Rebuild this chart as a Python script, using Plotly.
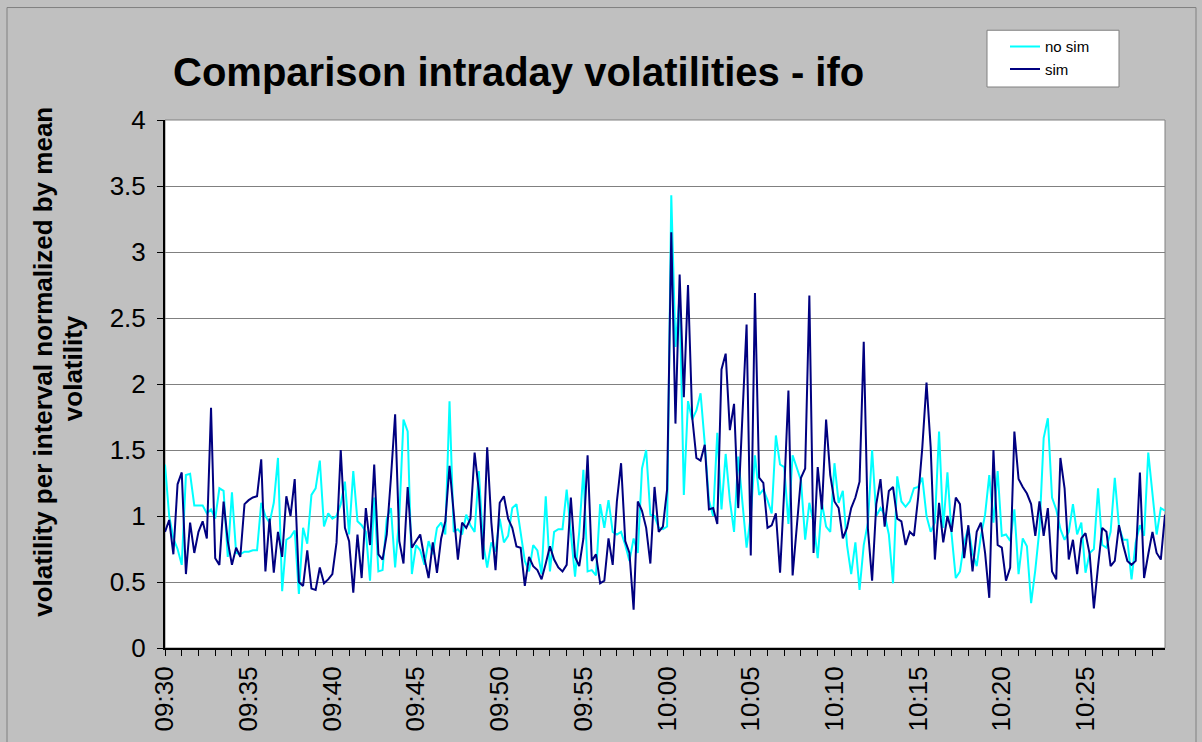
import plotly.graph_objects as go
import pandas as pd

# ---- data (15-second intervals from 09:30) ----
start_time = "2000-01-01 09:30:00"
interval = "15s"

no_sim = [
    1.39,1.00,0.83,0.75,0.63,1.31,1.32,1.08,1.08,1.08,1.02,1.05,0.98,1.21,1.19,0.69,1.18,0.72,0.71,0.73,
    0.73,0.74,0.74,1.10,1.00,0.95,1.10,1.44,0.43,0.82,0.84,0.89,0.41,0.91,0.79,1.16,1.21,1.42,0.92,1.02,
    0.98,1.00,1.09,1.26,0.86,1.34,0.96,0.93,0.88,0.51,1.14,0.58,0.59,0.98,1.06,0.61,1.00,1.73,1.64,0.56,
    0.78,0.74,0.63,0.81,0.71,0.91,0.95,0.86,1.87,0.88,0.90,0.86,1.01,0.93,0.88,1.34,0.80,0.61,0.80,0.73,
    0.98,0.80,0.85,1.06,1.09,0.86,0.66,0.58,0.78,0.74,0.56,1.15,0.58,0.88,0.90,0.90,1.20,0.87,0.54,0.88,
    1.35,0.58,0.59,0.55,1.09,0.91,1.12,0.88,0.86,0.88,0.78,0.66,0.83,0.72,1.36,1.50,1.01,1.00,0.91,0.90,
    0.92,3.43,2.28,2.67,1.16,1.87,1.73,1.80,1.93,1.55,1.12,1.00,1.63,1.05,1.47,1.12,0.88,1.45,1.10,0.76,
    1.00,1.46,1.16,1.20,1.12,1.02,1.61,1.39,1.37,0.94,1.46,1.37,1.27,0.82,1.10,0.95,0.68,1.10,0.92,0.88,
    1.40,1.10,1.19,0.78,0.56,0.80,0.44,0.78,0.95,1.50,1.00,1.06,1.01,0.86,0.49,1.30,1.11,1.07,1.11,1.21,
    1.22,1.29,1.00,0.88,0.95,1.64,0.91,1.33,0.86,0.53,0.58,0.80,0.91,0.72,0.62,0.85,1.01,1.31,0.95,1.34,
    0.85,0.86,0.81,1.05,0.56,0.83,0.77,0.34,0.59,0.90,1.59,1.74,1.14,1.05,0.90,0.82,0.88,1.09,0.86,0.95,
    0.57,0.72,0.75,1.21,0.78,0.76,0.88,1.29,0.92,0.82,0.82,0.52,0.80,0.93,0.85,1.48,1.16,0.86,1.06,1.04,
]

sim = [
    0.88,0.97,0.71,1.24,1.33,0.56,0.95,0.72,0.88,0.96,0.83,1.82,0.68,0.63,1.11,0.81,0.63,0.76,0.69,1.09,
    1.12,1.14,1.15,1.43,0.58,0.98,0.57,0.88,0.69,1.15,1.00,1.28,0.50,0.47,0.74,0.45,0.44,0.61,0.49,0.52,
    0.56,0.80,1.50,0.91,0.81,0.42,0.86,0.53,1.06,0.78,1.39,0.71,0.67,0.86,1.29,1.77,0.81,0.64,1.22,0.76,
    0.81,0.86,0.68,0.53,0.80,0.57,0.83,0.96,1.38,1.04,0.67,0.95,0.91,0.98,1.48,1.19,0.67,1.52,0.95,0.59,
    1.10,1.15,0.98,0.91,0.77,0.76,0.47,0.69,0.62,0.59,0.52,0.64,0.77,0.67,0.61,0.58,0.63,1.14,0.69,0.62,
    0.83,1.46,0.66,0.71,0.49,0.51,0.83,0.63,1.11,1.40,0.81,0.72,0.29,1.11,1.04,0.91,0.64,1.22,0.88,0.92,
    1.20,3.15,1.70,2.83,1.90,2.75,1.75,1.44,1.42,1.54,1.05,1.06,0.94,2.11,2.23,1.65,1.85,1.06,1.78,2.45,
    0.70,2.69,1.29,1.25,0.91,0.93,1.02,0.57,1.20,1.95,0.55,0.94,1.29,1.36,2.67,0.72,1.37,1.05,1.73,1.31,
    1.11,1.06,0.83,0.91,1.06,1.14,1.26,2.32,0.90,0.51,1.09,1.28,0.92,1.19,1.22,0.98,0.96,0.78,0.88,0.85,
    1.14,1.52,2.01,1.52,0.67,1.10,0.80,1.00,0.88,1.14,1.09,0.68,0.93,0.58,0.88,0.95,0.72,0.38,1.50,0.78,
    0.76,0.51,0.61,1.64,1.28,1.22,1.17,1.09,0.85,1.11,0.85,1.06,0.58,0.52,1.44,1.21,0.67,0.82,0.56,0.83,
    0.87,0.71,0.30,0.62,0.91,0.88,0.62,0.66,0.93,0.78,0.66,0.63,0.66,1.33,0.53,0.71,0.88,0.72,0.67,1.01,
]

y_ticks = [0, 0.5, 1, 1.5, 2, 2.5, 3, 3.5, 4]

title_text = "Comparison intraday volatilities - ifo"
ytitle_line1 = "volatility per interval normalized by mean"
ytitle_line2 = "volatility"

# ---- figure ----
t_no = pd.date_range(start_time, periods=len(no_sim), freq=interval)
t_sim = pd.date_range(start_time, periods=len(sim), freq=interval)
n = max(len(no_sim), len(sim))
t_all = pd.date_range(start_time, periods=n, freq=interval)

FONT = "Liberation Sans, Arial, sans-serif"

fig = go.Figure()
fig.add_trace(go.Scatter(x=t_no, y=no_sim, mode="lines", name="no sim",
                         line=dict(color="#00FFFF", width=2)))
fig.add_trace(go.Scatter(x=t_sim, y=sim, mode="lines", name="sim",
                         line=dict(color="#000080", width=2)))

fig.update_layout(
    width=1202, height=742,
    autosize=False,
    paper_bgcolor="#C0C0C0",
    plot_bgcolor="#FFFFFF",
    margin=dict(l=165, r=37, t=120, b=94, pad=0),
    font=dict(family=FONT, color="#000000"),
    showlegend=True,
    legend=dict(
        x=0.822, y=1.17, xanchor="left", yanchor="top",
        bgcolor="rgba(0,0,0,0)", borderwidth=0,
        font=dict(family=FONT, size=15, color="#000000"),
        itemwidth=30, tracegroupgap=2,
        indentation=18,
    ),
    xaxis=dict(
        range=[t_all[0], t_all[-1]],
        type="date",
        tickformat="%H:%M",
        dtick=300000,
        tick0=t_all[0],
        tickangle=-90,
        tickfont=dict(family=FONT, size=26),
        ticks="outside", ticklen=6, tickcolor="#000000",
        minor=dict(dtick=60000, ticks="outside", ticklen=6, tickcolor="#000000"),
        showgrid=False,
        showline=True, linecolor="#000000", linewidth=2,
        zeroline=False,
        automargin=False,
        fixedrange=True,
    ),
    yaxis=dict(
        range=[0, 4],
        tickvals=y_ticks,
        tickfont=dict(family=FONT, size=26),
        ticks="outside", ticklen=6, tickcolor="#000000",
        showgrid=True, gridcolor="#808080", gridwidth=1,
        showline=True, linecolor="#000000", linewidth=2,
        zeroline=False,
        automargin=False,
        ticklabelstandoff=6,
        fixedrange=True,
    ),
    shapes=[
        dict(type="rect", xref="paper", yref="paper", x0=0, x1=1, y0=0, y1=1,
             line=dict(color="#808080", width=1), layer="below"),
        dict(type="rect", xref="paper", yref="paper",
             x0=-0.158, x1=1.031, y0=-0.2, y1=1.213,
             line=dict(color="#808080", width=1), layer="below"),
        # legend frame
        dict(type="rect", xref="paper", yref="paper",
             x0=0.822, x1=0.954, y0=1.0625, y1=1.170,
             line=dict(color="#808080", width=1), fillcolor="#FFFFFF", layer="below"),
    ],
    annotations=[
        dict(text="<b>" + title_text + "</b>", xref="paper", yref="paper",
             x=0.353, y=1.091, xanchor="center", yanchor="middle", showarrow=False,
             font=dict(family=FONT, size=40, color="#000000")),
        dict(text="<b>" + ytitle_line1 + "</b>", xref="paper", yref="paper",
             x=-0.122, y=0.542, xanchor="center", yanchor="middle", showarrow=False,
             textangle=-90, font=dict(family=FONT, size=26, color="#000000")),
        dict(text="<b>" + ytitle_line2 + "</b>", xref="paper", yref="paper",
             x=-0.092, y=0.530, xanchor="center", yanchor="middle", showarrow=False,
             textangle=-90, font=dict(family=FONT, size=26, color="#000000")),
    ],
)

fig.write_html(
    "out.html",
    config={"displayModeBar": False},
    post_script="document.body.style.margin='0px';document.body.style.overflow='hidden';",
)
